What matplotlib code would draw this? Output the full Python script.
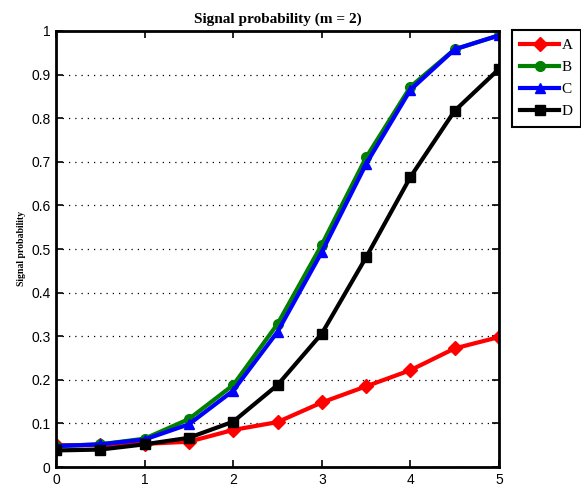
import numpy as np
import matplotlib
matplotlib.use("Agg")
import matplotlib.pyplot as plt

# input levels and the signal probability of each detector
x = [0, 0.5, 1, 1.5, 2, 2.5, 3, 3.5, 4, 4.5, 5]
probA = [0.05, 0.05, 0.053, 0.058, 0.085, 0.103, 0.148, 0.185, 0.222, 0.272, 0.298]
probB = [0.048, 0.052, 0.065, 0.11, 0.188, 0.328, 0.51, 0.71, 0.872, 0.958, 0.99]
probC = [0.048, 0.052, 0.063, 0.098, 0.175, 0.31, 0.493, 0.695, 0.865, 0.958, 0.99]
probD = [0.038, 0.04, 0.052, 0.067, 0.104, 0.188, 0.306, 0.481, 0.665, 0.817, 0.913]
names = ["A", "B", "C", "D"]

fig = plt.figure(figsize=(5.81, 4.94), dpi=100)
ax = fig.add_axes([56/581, 27/494, 443/581, 436/494])

styles = [("red", "D"), ("green", "o"), ("blue", "^"), ("black", "s")]
for y, name, (col, mk) in zip([probA, probB, probC, probD], names, styles):
    ax.plot(x, y, color=col, marker=mk, lw=3, ms=7, label=name)

ax.set_xlim(0, 5)
ax.set_ylim(0, 1)
ax.set_xticks(np.arange(0, 6, 1))
ax.set_yticks(np.arange(0, 1.01, 0.1))
ax.set_yticklabels(["0", "0.1", "0.2", "0.3", "0.4", "0.5", "0.6", "0.7", "0.8", "0.9", "1"])
ax.yaxis.grid(True, linestyle=(0, (1, 4)), color="black", lw=0.9)
ax.tick_params(direction="in", top=True, right=True, length=5, width=1.2,
               labelsize=10, pad=4)
for lab in ax.get_xticklabels() + ax.get_yticklabels():
    lab.set_family("Liberation Sans")
for sp in ax.spines.values():
    sp.set_linewidth(2)

ax.set_title("Signal probability (m = 2)", family="Liberation Serif",
             fontweight="bold", fontsize=11, pad=6)
ax.set_ylabel("Signal probability", family="Liberation Serif",
              fontweight="bold", fontsize=7, labelpad=4)

# legend sits outside the axes, to the right
leg = ax.legend(loc="upper left", bbox_to_anchor=(512/581, 464/494),
                bbox_transform=fig.transFigure, fancybox=False,
                edgecolor="black", framealpha=1, borderaxespad=0,
                prop={"family": "Liberation Serif", "size": 11},
                handlelength=2.5, labelspacing=0.55, handletextpad=0.2,
                borderpad=0.55)
leg.get_frame().set_linewidth(1.5)

fig.savefig("out.png", dpi=100)
